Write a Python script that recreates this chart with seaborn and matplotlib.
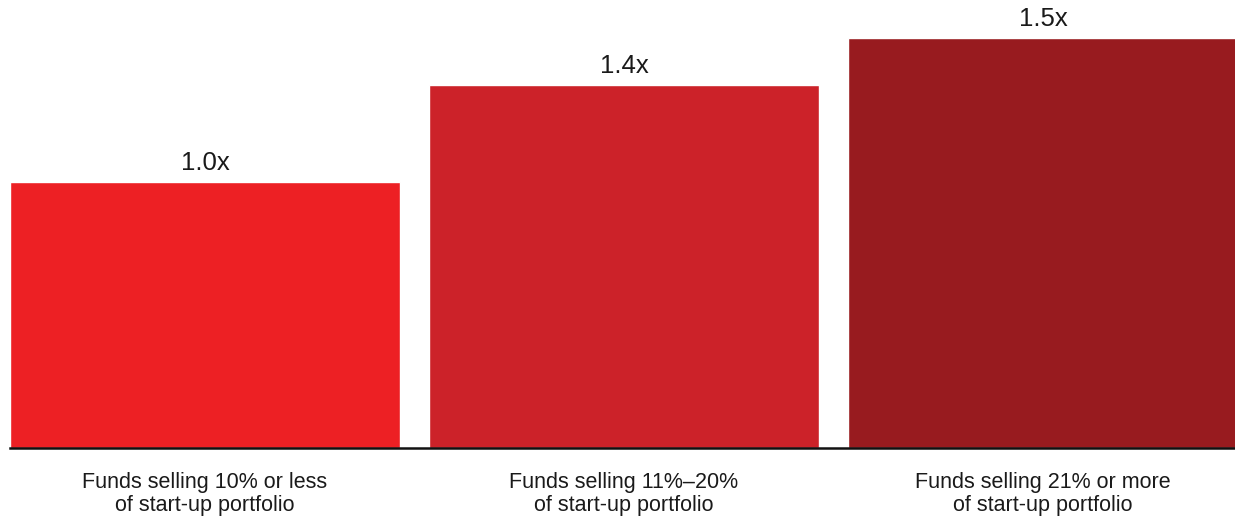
import matplotlib
matplotlib.use('Agg')
import matplotlib.pyplot as plt
import seaborn as sns
import pandas as pd

# DATA ------------------
categories = [
    'Funds selling 10% or less\nof start-up portfolio',
    'Funds selling 11%\u201320%\nof start-up portfolio',
    'Funds selling 21% or more\nof start-up portfolio',
]
multiples = [1.0, 1.365, 1.54]
bar_colors = ['#ED2024', '#CC2229', '#981B1F']

df = pd.DataFrame({'category': categories, 'multiple': multiples})

# PLOT ------------------
sns.set_style('white')
plt.rcParams['font.family'] = ['Liberation Sans', 'DejaVu Sans']

fig = plt.figure(figsize=(12.35, 5.16), dpi=100)
ax = fig.add_axes([10 / 1235, 1 - 448 / 516, 1225 / 1235, 448 / 516])

sns.barplot(data=df, x='category', y='multiple', hue='category',
            palette=bar_colors, width=0.931, saturation=1, legend=False, ax=ax)

# value labels above bars
for cont in ax.containers:
    ax.bar_label(cont, fmt='{:.1f}x', padding=5, fontsize=18.5, color='#1a1a1a')

ax.set_xlim(-0.4655, 2.4585)
ax.set_ylim(0, 448 / 266)
ax.set_xlabel('')
ax.set_ylabel('')
ax.set_yticks([])
ax.tick_params(axis='x', length=0, pad=17, labelsize=15.5, labelcolor='#1a1a1a')
for lbl in ax.get_xticklabels():
    lbl.set_linespacing(1.15)
for s in ['top', 'right', 'left']:
    ax.spines[s].set_visible(False)
ax.spines['bottom'].set_linewidth(1.8)
ax.spines['bottom'].set_color('#111111')

fig.savefig('out.png', dpi=100)
